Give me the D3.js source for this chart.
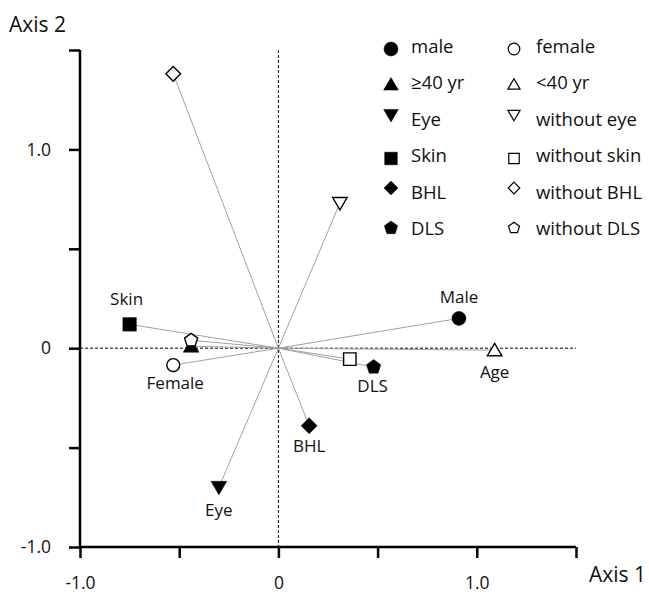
<!DOCTYPE html>
<html><head><meta charset="utf-8">
<script src="https://cdn.jsdelivr.net/npm/d3@7"></script>
<style>body{margin:0;background:#fff}svg text{font-family:"Open Sans",sans-serif;fill:#111}</style>
</head><body><svg id="c" width="649" height="594"></svg>
<script>
// Data
const names = ["male","female","≥40 yr","<40 yr","Eye","without eye","Skin","without skin","BHL","without BHL","DLS","without DLS"];
const axis1 = [0.91,-0.53,-0.44,1.09,-0.30,0.31,-0.75,0.36,0.155,-0.53,0.48,-0.44];
const axis2 = [0.15,-0.085,0.01,-0.01,-0.70,0.73,0.12,-0.055,-0.39,1.38,-0.095,0.04];
const shapes = ["circle","circle","triangle","triangle","down","down","square","square","diamond","diamond","pentagon","pentagon"];
const filled = [true,false,true,false,true,false,true,false,true,false,true,false];
const labelNames = ["Male","Female","Age","Skin","BHL","DLS","Eye"];
const labelFor = ["male","female","<40 yr","Skin","BHL","DLS","Eye"];
const labelDx = [0,2,0,-3,0,-1,0];
const labelDy = [-22,17,21,-26,20,18,22];
const xTicks = [-1.0,-0.5,0,0.5,1.0,1.5];
const xTickLabels = {"-1":"-1.0","0":"0","1":"1.0"};
const yTicks = [-1.0,-0.5,0,0.5,1.0,1.5];
const yTickLabels = {"-1":"-1.0","0":"0","1":"1.0"};

const svg = d3.select("#c");
const x = d3.scaleLinear().domain([-1,1.5]).range([80,576]);
const y = d3.scaleLinear().domain([-1,1.5]).range([547,50]);

// zero dashed lines
svg.append("line").attr("x1",x(0)).attr("x2",x(0)).attr("y1",y(1.5)).attr("y2",y(-1))
  .attr("stroke","#000").attr("stroke-width",1).attr("stroke-dasharray","3,2");
svg.append("line").attr("x1",x(-1)).attr("x2",x(1.5)).attr("y1",y(0)).attr("y2",y(0))
  .attr("stroke","#000").attr("stroke-width",1).attr("stroke-dasharray","3,2");

// axes
const xAxis = d3.axisBottom(x).tickValues(xTicks).tickSize(11).tickSizeOuter(0)
  .tickFormat(d => xTickLabels[String(d)] || "");
const gx = svg.append("g").attr("transform",`translate(0,${y(-1)})`).call(xAxis);
gx.select(".domain").attr("stroke-width",2.5).attr("d",`M${x(-1)},0H${x(1.5)}`);
gx.selectAll(".tick line").attr("stroke-width",2.5);
gx.selectAll(".tick text").attr("font-size",17.5).attr("dy","1.6em").attr("font-family","Open Sans");

const yAxis = d3.axisLeft(y).tickValues(yTicks).tickSize(11).tickSizeOuter(0)
  .tickFormat(d => yTickLabels[String(d)] || "");
const gy = svg.append("g").attr("transform",`translate(${x(-1)},0)`).call(yAxis);
gy.select(".domain").attr("stroke-width",2.5).attr("d",`M0,${y(1.5)}V${y(-1)}`);
gy.selectAll(".tick line").attr("stroke-width",2.5);
gy.selectAll(".tick text").attr("font-size",17.5).attr("x",-29).attr("font-family","Open Sans");
svg.selectAll(".tick line").attr("stroke","#000");
svg.selectAll(".domain").attr("stroke","#000");
svg.selectAll(".tick text").style("fill","#111");

svg.append("text").attr("x",9).attr("y",32).attr("font-size",21).text("Axis 2");
svg.append("text").attr("x",589).attr("y",582).attr("font-size",21).text("Axis 1");

// vector lines
const idx = d3.range(names.length);
svg.append("g").selectAll("line").data(idx).join("line")
  .attr("x1",x(0)).attr("y1",y(0))
  .attr("x2",i=>x(axis1[i])).attr("y2",i=>y(axis2[i]))
  .attr("stroke","#a0a0a0").attr("stroke-width",1);

function shapePath(s, r){
  switch(s){
    case "circle": return d3.symbol(d3.symbolCircle, Math.PI*r*r)();
    case "triangle": return `M0,${-r}L${r*1.05},${r*0.8}L${-r*1.05},${r*0.8}Z`;
    case "down": return `M0,${r}L${r*1.05},${-r*0.8}L${-r*1.05},${-r*0.8}Z`;
    case "square": return `M${-r*0.9},${-r*0.9}H${r*0.9}V${r*0.9}H${-r*0.9}Z`;
    case "diamond": return `M0,${-r}L${r},0L0,${r}L${-r},0Z`;
    case "pentagon": {
      const pts = d3.range(5).map(k=>{const a=-Math.PI/2+k*2*Math.PI/5;return [r*Math.cos(a),r*Math.sin(a)];});
      return "M"+pts.map(p=>p.join(",")).join("L")+"Z";
    }
  }
}
const markR = {circle:7,triangle:7.5,down:7.5,square:7.5,diamond:8,pentagon:7.5};
svg.append("g").selectAll("path").data(idx).join("path")
  .attr("transform",i=>`translate(${x(axis1[i])},${y(axis2[i])})`)
  .attr("d",i=>shapePath(shapes[i], filled[i]?markR[shapes[i]]:markR[shapes[i]]*0.92))
  .attr("fill",i=>filled[i]?"#000":"#fff").attr("stroke","#000").attr("stroke-width",i=>filled[i]?0.5:1.4);

// point labels
svg.append("g").selectAll("text").data(labelNames).join("text")
  .attr("x",(d,k)=>x(axis1[names.indexOf(labelFor[k])])+labelDx[k])
  .attr("y",(d,k)=>y(axis2[names.indexOf(labelFor[k])])+labelDy[k])
  .attr("text-anchor","middle").attr("dominant-baseline","central")
  .attr("font-size",17).text(d=>d);

// legend
const legRows = [45,81.5,118,154.5,191,227];
const legCol = [{mx:391,tx:411},{mx:514,tx:536}];
const lg = svg.append("g");
idx.forEach(i=>{
  const row = Math.floor(i/2), col = i%2;
  const s = shapes[i];
  const my = legRows[row] + (s==="circle"||s==="square"?4:(s==="pentagon"?1:(s==="triangle"?3:-3)));
  const r = col===0 ? 7 : 5.8;
  lg.append("path").attr("transform",`translate(${legCol[col].mx},${my})`)
    .attr("d",shapePath(s,r))
    .attr("fill",filled[i]?"#000":"#fff").attr("stroke","#000").attr("stroke-width",filled[i]?0.5:1.2);
  lg.append("text").attr("x",legCol[col].tx).attr("y",legRows[row]).attr("dominant-baseline","central")
    .attr("font-size",18.5).text(names[i]);
});
</script></body></html>
